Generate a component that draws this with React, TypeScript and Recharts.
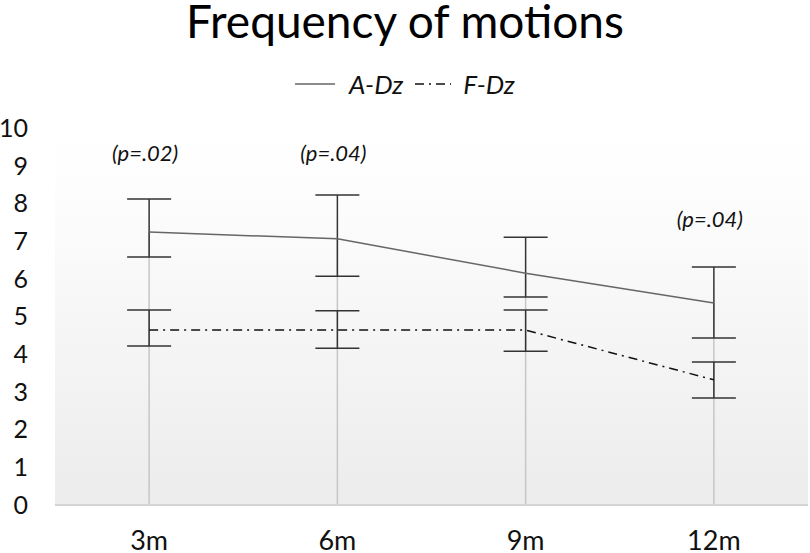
import React from "react";
import {
  ComposedChart,
  Line,
  XAxis,
  YAxis,
  CartesianGrid,
  ErrorBar,
  ReferenceLine,
  ReferenceDot,
} from "recharts";

const CATEGORIES = ["3m", "6m", "9m", "12m"];

// A-Dz mean with the ends of its error bars
const A_DZ = [7.24, 7.06, 6.15, 5.36];
const A_DZ_HIGH = [8.12, 8.22, 7.1, 6.31];
const A_DZ_LOW = [6.58, 6.07, 5.52, 4.43];

// F-Dz mean with the ends of its error bars
const F_DZ = [4.64, 4.64, 4.64, 3.32];
const F_DZ_HIGH = [5.17, 5.15, 5.17, 3.79];
const F_DZ_LOW = [4.22, 4.16, 4.08, 2.84];

const Y_TICKS = [0, 1, 2, 3, 4, 5, 6, 7, 8, 9, 10];

const P_LABELS = [
  { at: "3m", y: 9.36, text: "(p=.02)" },
  { at: "6m", y: 9.36, text: "(p=.04)" },
  { at: "12m", y: 7.61, text: "(p=.04)" },
];

const FONT = "Lato, 'Open Sans', sans-serif";

const data = CATEGORIES.map((c, i) => ({
  period: c,
  aDz: A_DZ[i],
  aErr: [A_DZ[i] - A_DZ_LOW[i], A_DZ_HIGH[i] - A_DZ[i]],
  fDz: F_DZ[i],
  fErr: [F_DZ[i] - F_DZ_LOW[i], F_DZ_HIGH[i] - F_DZ[i]],
}));

const PLabel = ({ viewBox, value }: any) => {
  if (!viewBox) return null;
  const cx = viewBox.x + (viewBox.width || 0) / 2;
  const cy = viewBox.y + (viewBox.height || 0) / 2;
  return (
    <text
      x={cx - 4}
      y={cy}
      textAnchor="middle"
      dominantBaseline="central"
      fontFamily={FONT}
      fontStyle="italic"
      fontSize={22}
      fill="#111"
    >
      {value}
    </text>
  );
};

export default function App() {
  return (
    <div style={{ position: "absolute", left: 0, top: 0, width: 810, height: 553, background: "#fff" }}>
      <div
        style={{
          position: "absolute",
          left: 0,
          top: 0,
          width: 810,
          textAlign: "center",
          fontFamily: FONT,
          fontSize: 46,
          lineHeight: "42px",
          color: "#000",
        }}
      >
        Frequency of motions
      </div>
      <div
        style={{
          position: "absolute",
          left: 0,
          top: 68,
          width: 810,
          display: "flex",
          justifyContent: "center",
          alignItems: "center",
          fontFamily: FONT,
          fontStyle: "italic",
          fontSize: 26,
          color: "#111",
        }}
      >
        <svg width={40} height={10} style={{ marginRight: 14 }}>
          <line x1={0} y1={5} x2={40} y2={5} stroke="#666" strokeWidth={1.5} />
        </svg>
        <span style={{ marginRight: 12 }}>A-Dz</span>
        <svg width={36} height={10} style={{ marginRight: 12 }}>
          <line x1={0} y1={5} x2={36} y2={5} stroke="#111" strokeWidth={1.5} strokeDasharray="9 5 2 5" />
        </svg>
        <span>F-Dz</span>
      </div>
      <ComposedChart
        width={810}
        height={553}
        data={data}
        margin={{ top: 128, right: 2, left: 0, bottom: 0 }}
        style={{ position: "absolute", left: 0, top: 0 }}
      >
        <defs>
          <linearGradient id="plotBg" x1="0" y1="0" x2="0" y2="1">
            <stop offset="0%" stopColor="#ffffff" />
            <stop offset="17%" stopColor="#fdfdfd" />
            <stop offset="100%" stopColor="#ececec" />
          </linearGradient>
        </defs>
        <CartesianGrid fill="url(#plotBg)" stroke="none" horizontal={false} vertical={false} />
        <XAxis
          dataKey="period"
          scale="band"
          height={48}
          axisLine={{ stroke: "#d4d4d4", strokeWidth: 2 }}
          tickLine={false}
          tickMargin={20}
          tick={{ fontFamily: FONT, fontSize: 27, fill: "#111" }}
        />
        <YAxis
          width={55}
          domain={[0, 10]}
          ticks={Y_TICKS}
          axisLine={false}
          tickLine={false}
          tickMargin={21}
          tick={{ fontFamily: FONT, fontSize: 25, fill: "#111" }}
        />
        {CATEGORIES.map((c, i) => (
          <ReferenceLine
            key={c}
            segment={[
              { x: c, y: 0 },
              { x: c, y: A_DZ[i] },
            ]}
            stroke="#c6c6c6"
            strokeWidth={1.5}
          />
        ))}
        <Line
          dataKey="aDz"
          stroke="#666"
          strokeWidth={1.5}
          dot={false}
          activeDot={false}
          isAnimationActive={false}
        >
          <ErrorBar dataKey="aErr" direction="y" width={22} stroke="#333" strokeWidth={1.5} />
        </Line>
        <Line
          dataKey="fDz"
          stroke="#111"
          strokeWidth={1.5}
          strokeDasharray="9 5 2 5"
          dot={false}
          activeDot={false}
          isAnimationActive={false}
        >
          <ErrorBar dataKey="fErr" direction="y" width={22} stroke="#333" strokeWidth={1.5} />
        </Line>
        {P_LABELS.map((p) => (
          <ReferenceDot
            key={p.at + p.text}
            x={p.at}
            y={p.y}
            r={1}
            fill="none"
            stroke="none"
            label={<PLabel value={p.text} />}
          />
        ))}
      </ComposedChart>
    </div>
  );
}
